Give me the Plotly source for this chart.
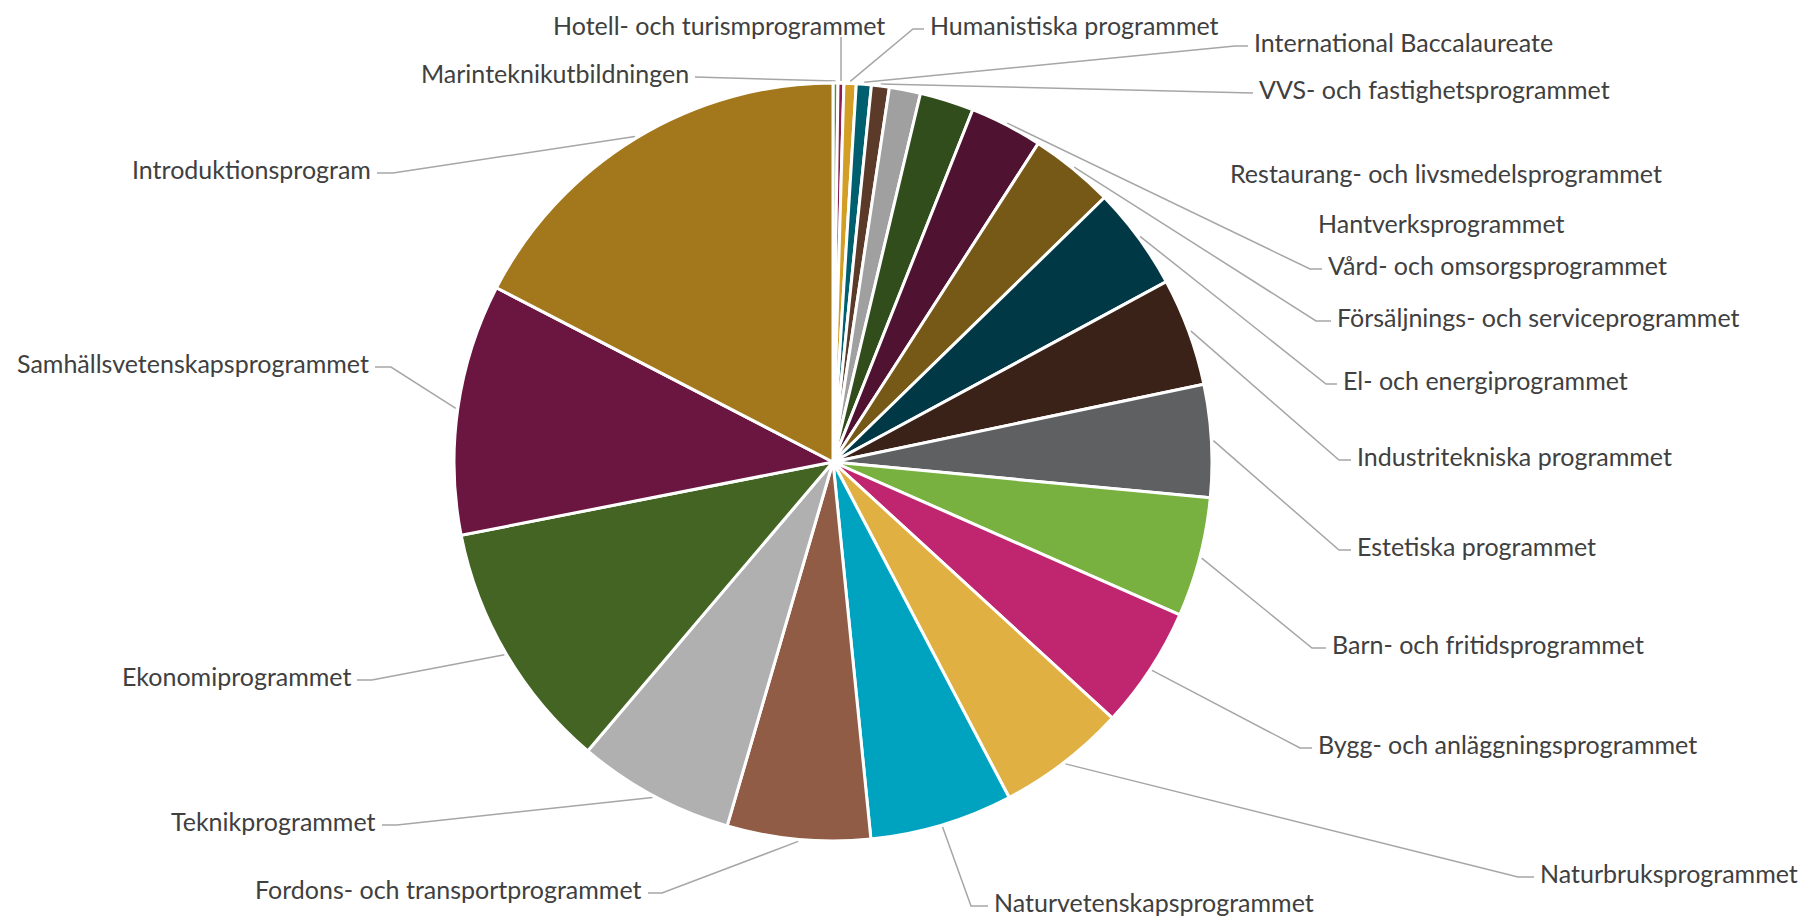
import math
import plotly.graph_objects as go

# programmes in clockwise order from 12 o'clock (ascending share)
programs = [
    "Marinteknikutbildningen",
    "Hotell- och turismprogrammet",
    "Humanistiska programmet",
    "International Baccalaureate",
    "VVS- och fastighetsprogrammet",
    "Restaurang- och livsmedelsprogrammet",
    "Hantverksprogrammet",
    "Vård- och omsorgsprogrammet",
    "Försäljnings- och serviceprogrammet",
    "El- och energiprogrammet",
    "Industritekniska programmet",
    "Estetiska programmet",
    "Barn- och fritidsprogrammet",
    "Bygg- och anläggningsprogrammet",
    "Naturbruksprogrammet",
    "Naturvetenskapsprogrammet",
    "Fordons- och transportprogrammet",
    "Teknikprogrammet",
    "Ekonomiprogrammet",
    "Samhällsvetenskapsprogrammet",
    "Introduktionsprogram",
]
shares = [0.21, 0.25, 0.52, 0.64, 0.76, 1.33, 2.3, 3.1, 3.6, 4.4, 4.6,
          4.8, 5.1, 5.2, 5.5, 6.1, 6.1, 6.7, 10.7, 10.7, 17.4]
colors = ["#5B8C3A", "#8E1B52", "#D39E26", "#005F6E", "#5B3A29", "#A0A0A0",
          "#324D1C", "#4F1230", "#765817", "#003945", "#3A2219", "#5F6062",
          "#78B13F", "#BF266F", "#E1B042", "#00A3BF", "#905C45", "#B0B0B0",
          "#436423", "#6A1640", "#A3781C"]

# page size and the browser's default body margin
PAGE_W, PAGE_H, PAD = 1813, 917, 8
W, H = PAGE_W - PAD, PAGE_H - PAD
CX, CY, R = 833, 462, 379   # pie centre/radius in page pixels

# label placement in page pixels: text x, text y, side, knee x
label_layout = {
    "Marinteknikutbildningen": (691, 73, "right", 695),
    "Hotell- och turismprogrammet": (887, 25, "top", None),
    "Humanistiska programmet": (928, 25, "left", 913),
    "International Baccalaureate": (1252, 42, "left", 1235),
    "VVS- och fastighetsprogrammet": (1257, 89, "left", 1241),
    "Restaurang- och livsmedelsprogrammet": (1228, 173, "none", None),
    "Hantverksprogrammet": (1316, 223, "none", None),
    "Vård- och omsorgsprogrammet": (1326, 265, "left", 1310),
    "Försäljnings- och serviceprogrammet": (1335, 317, "left", 1316),
    "El- och energiprogrammet": (1341, 380, "left", 1326),
    "Industritekniska programmet": (1355, 456, "left", 1339),
    "Estetiska programmet": (1355, 546, "left", 1339),
    "Barn- och fritidsprogrammet": (1330, 644, "left", 1312),
    "Bygg- och anläggningsprogrammet": (1316, 744, "left", 1300),
    "Naturbruksprogrammet": (1538, 873, "left", 1518),
    "Naturvetenskapsprogrammet": (992, 902, "left", 971),
    "Fordons- och transportprogrammet": (644, 889, "right", 662),
    "Teknikprogrammet": (378, 821, "right", 397),
    "Ekonomiprogrammet": (353, 676, "right", 372),
    "Samhällsvetenskapsprogrammet": (371, 363, "right", 391),
    "Introduktionsprogram": (373, 169, "right", 393),
}

fig = go.Figure()

fig.add_trace(go.Pie(
    labels=programs,
    values=shares,
    sort=False,
    direction="clockwise",
    rotation=0,
    textinfo="none",
    hoverinfo="label+percent",
    marker=dict(colors=colors, line=dict(color="white", width=3)),
    domain=dict(x=[(CX - R - PAD) / W, (CX + R - PAD) / W],
                y=[1 - (CY + R - PAD) / H, 1 - (CY - R - PAD) / H]),
    showlegend=False,
))

# leader lines from slice midpoints to labels
total = sum(shares)
cum = 0
lx, ly = [], []
annotations = []
for name, v in zip(programs, shares):
    mid = (cum + v / 2) / total * 2 * math.pi
    cum += v
    sx = CX + (R + 2) * math.sin(mid)
    sy = CY - (R + 2) * math.cos(mid)
    tx, ty, side, kx = label_layout[name]
    if side == "left":
        lx += [sx, kx, tx - 4, None]
        ly += [sy, ty + 4, ty + 4, None]
        xanchor = "left"
    elif side == "right":
        lx += [sx, kx, tx + 4, None]
        ly += [sy, ty + 4, ty + 4, None]
        xanchor = "right"
    elif side == "top":
        lx += [sx, sx, None]
        ly += [sy, ty + 12, None]
        xanchor = "right"
    else:
        xanchor = "left"
    annotations.append(dict(
        x=tx, y=ty, xref="x", yref="y", text=name, showarrow=False,
        xanchor=xanchor, yanchor="middle",
        font=dict(family="Lato", size=25, color="#404040"),
    ))

fig.add_trace(go.Scatter(
    x=lx, y=ly, mode="lines", hoverinfo="skip", showlegend=False,
    line=dict(color="#A6A6A6", width=1.5),
))

fig.update_layout(
    width=W, height=H,
    margin=dict(l=0, r=0, t=0, b=0),
    paper_bgcolor="white", plot_bgcolor="white",
    xaxis=dict(range=[PAD, PAGE_W], visible=False, fixedrange=True),
    yaxis=dict(range=[PAGE_H, PAD], visible=False, fixedrange=True),
    annotations=annotations,
)

fig.write_html("out.html")
